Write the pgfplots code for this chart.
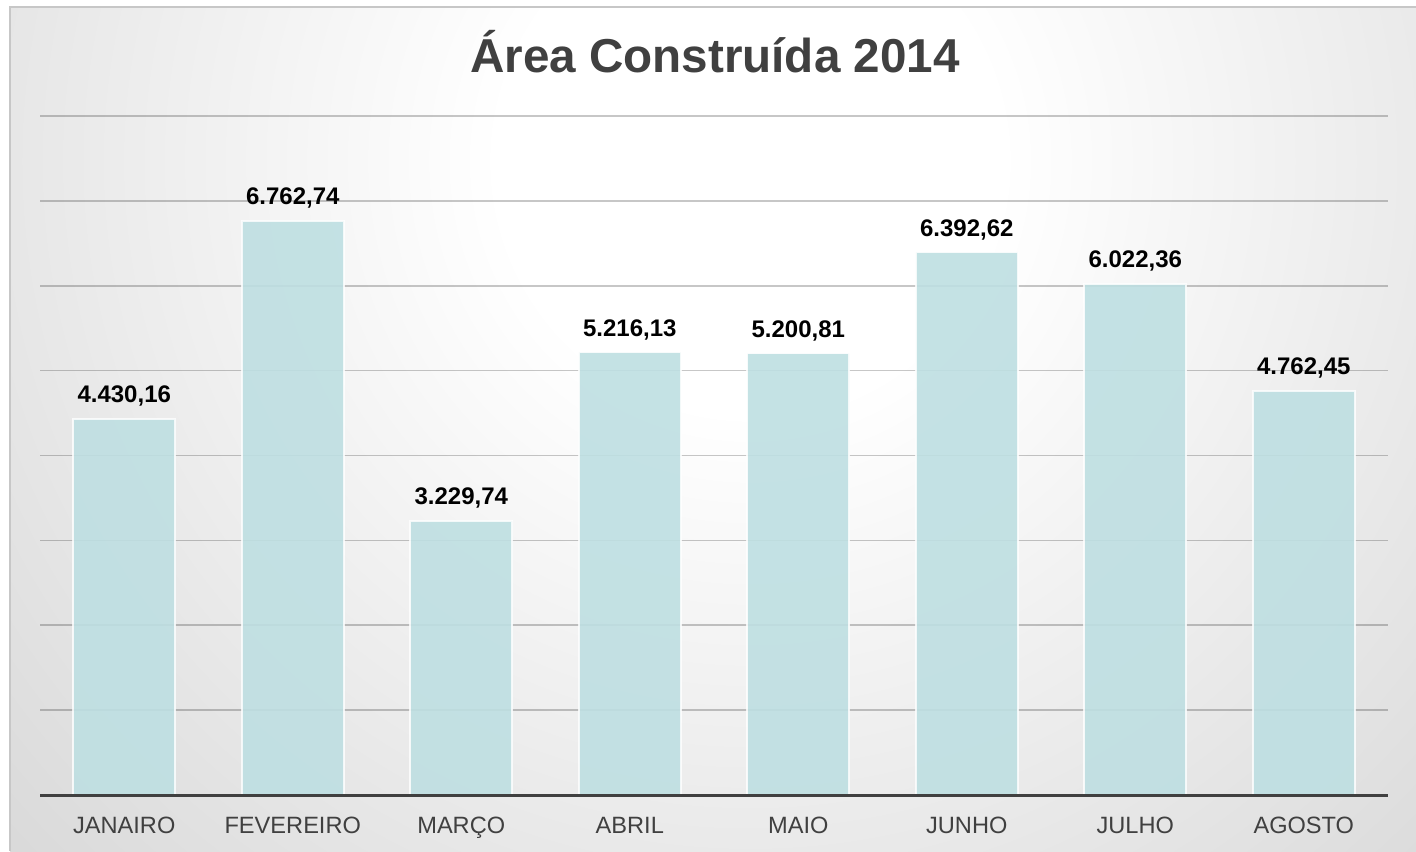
\documentclass[border=0pt]{standalone}
\usepackage{fontspec}
\setmainfont{Liberation Sans}
\usepackage{pgfplots}
\pgfplotsset{compat=1.18}
\definecolor{bggray}{HTML}{C4C4C4}
\definecolor{titlegray}{HTML}{404040}
\definecolor{barfill}{HTML}{BEDFE2}
\pgfdeclareradialshading{bgshade}{\pgfpoint{0bp}{0bp}}{color(0bp)=(white); color(5bp)=(white); color(29bp)=(bggray); color(50bp)=(bggray)}
\begin{document}
\begin{tikzpicture}[x=0.5bp,y=0.5bp]
\useasboundingbox (0,0) rectangle (1416,851);
\fill[white] (0,0) rectangle (1416,851);
\begin{scope}
\clip (10,0) rectangle (1416,844);
\fill[bggray] (10,0) rectangle (1416,844);
\shade[shading=bgshade] (750,690) circle (625bp);
\end{scope}
\draw[color=black!22, line width=1bp] (10,0) -- (10,844) -- (1416,844);
\node[anchor=base, text=titlegray, font=\fontsize{23.8bp}{28bp}\selectfont\bfseries] at (715,778) {Área Construída 2014};
\begin{axis}[
  at={(20bp,28bp)}, anchor=south west,
  scale only axis, width=674bp, height=339.5bp,
  xmin=-0.5, xmax=7.5, ymin=0, ymax=8000,
  ytick={1000,2000,3000,4000,5000,6000,7000,8000},
  yticklabels={},
  ymajorgrids,
  grid style={draw=black, draw opacity=0.22, line width=0.8bp},
  axis line style={draw=none},
  major tick length=0pt,
  xtick={0,1,2,3,4,5,6,7},
  xticklabels={JANAIRO,FEVEREIRO,MARÇO,ABRIL,MAIO,JUNHO,JULHO,AGOSTO},
  xticklabel style={font=\fontsize{11.8bp}{14bp}\selectfont, text=titlegray, anchor=base, yshift=-19bp},
  clip=false,
]
\addplot[ybar, bar width=51bp, fill=barfill, fill opacity=0.9, draw=white, draw opacity=0.8, line width=0.8bp,
  nodes near coords={\pgfmathprintnumber[fixed,fixed zerofill,precision=2,use comma,1000 sep={.},assume math mode=true]{\pgfplotspointmeta}},
  every node near coord/.append style={font=\fontsize{12bp}{14bp}\selectfont\bfseries, text=black, text opacity=1, fill opacity=1, anchor=base, yshift=8bp}]
  coordinates {(0,4430.16) (1,6762.74) (2,3229.74) (3,5216.13) (4,5200.81) (5,6392.62) (6,6022.36) (7,4762.45)};
\draw[titlegray, line width=1.5bp] (axis cs:-0.5,0) -- (axis cs:7.5,0);
\end{axis}
\end{tikzpicture}
\end{document}
